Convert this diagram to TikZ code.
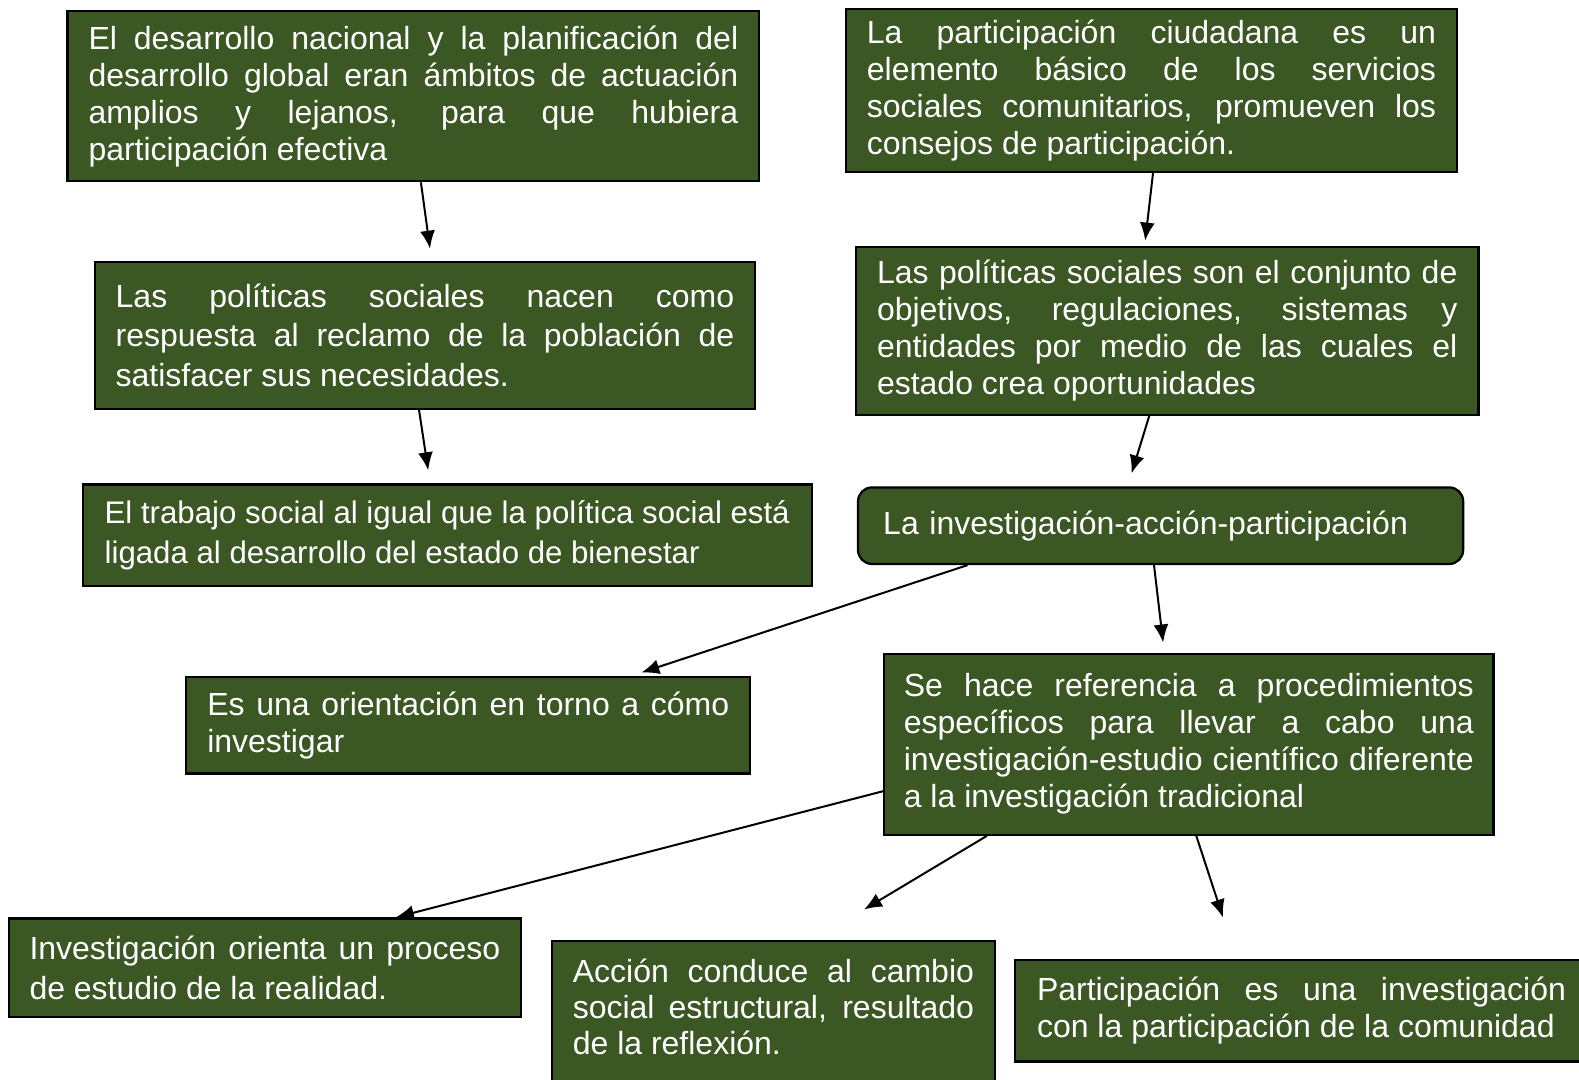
\documentclass[tikz,border=0pt]{standalone}
\usepackage{fontspec}
\setmainfont{Liberation Sans}
\usetikzlibrary{positioning,arrows.meta,calc}
\definecolor{boxgreen}{RGB}{58,87,36}

\begin{document}
\begin{tikzpicture}[x=0.5pt,y=-0.5pt,>={Latex[length=9pt,width=7.5pt]},
  gbox/.style={draw=black,line width=1.1pt,fill=boxgreen,text=white,inner xsep=10.5pt,inner ysep=0pt,
    align=justify,font=\fontsize{16pt}{18.5pt}\selectfont},
  link/.style={->,line width=1pt}]
  \useasboundingbox (0,0) rectangle (1579,1080);
  % left column
  \node[gbox,minimum width=345.9pt,minimum height=85pt,text width=324.9pt] (des) at (413.4,96.2)
    {El desarrollo nacional y la planificación del\linebreak desarrollo global eran ámbitos de actuación\linebreak amplios y lejanos, para que hubiera\linebreak participación efectiva};
  \node[gbox,minimum width=330.3pt,minimum height=73.5pt,text width=309.3pt,font=\fontsize{16pt}{19.6pt}\selectfont] (pol) at (425,335.3)
    {Las políticas sociales nacen como\linebreak respuesta al reclamo de la población de\linebreak satisfacer sus necesidades.};
  \node[gbox,minimum width=364.6pt,minimum height=50.9pt,align=left,font=\fontsize{15.6pt}{20.1pt}\selectfont] (trab) at (447.2,535.3)
    {El trabajo social al igual que la política social está\\ligada al desarrollo del estado de bienestar};
  \node[gbox,minimum width=282pt,minimum height=48.4pt,text width=261pt] (orient) at (468.3,725.1)
    {Es una orientación en torno a cómo\linebreak investigar};
  % right column
  \node[gbox,minimum width=305.6pt,minimum height=81.5pt,text width=284.6pt] (part) at (1151.5,90.6)
    {La participación ciudadana es un\linebreak elemento básico de los servicios\linebreak sociales comunitarios, promueven los\linebreak consejos de participación.};
  \node[gbox,minimum width=311.2pt,minimum height=84.1pt,text width=290.2pt] (conj) at (1167.2,330.8)
    {Las políticas sociales son el conjunto de\linebreak objetivos, regulaciones, sistemas y\linebreak entidades por medio de las cuales el\linebreak estado crea oportunidades};
  \node[gbox,rounded corners=7pt,inner xsep=12.6pt,minimum width=302.6pt,minimum height=38.3pt,text width=277.4pt,align=left] (iap) at (1160.6,525.7)
    {La investigación-acción-participación};
  \node[gbox,inner xsep=9.8pt,minimum width=304.6pt,minimum height=90.6pt,text width=285pt] (ref) at (1188.8,744.2)
    {Se hace referencia a procedimientos\linebreak específicos para llevar a cabo una\linebreak investigación-estudio científico diferente\linebreak a la investigación tradicional};
  % bottom row
  \node[gbox,inner xsep=10.2pt,minimum width=255.8pt,minimum height=49.4pt,text width=235.4pt,font=\fontsize{16pt}{19.6pt}\selectfont] (inv) at (264.9,967.8)
    {Investigación orienta un proceso\linebreak de estudio de la realidad.};
  \node[gbox,minimum width=221.6pt,minimum height=70.5pt,text width=200.6pt,font=\fontsize{16pt}{18.1pt}\selectfont] (acc) at (773.4,1011.1)
    {Acción conduce al cambio\linebreak social estructural, resultado\linebreak de la reflexión.\par\vspace{4pt}};
  \node[gbox,inner xsep=11pt,minimum width=286.5pt,minimum height=50.9pt,text width=264.5pt] (pcom) at (1301.5,1010.5)
    {Participación es una investigación\linebreak con la participación de la comunidad};
  % connectors
  \draw[link] ($(des.south)+(7.5,0)$) -- ($(pol.north)+(5,-12)$);
  \draw[link] ($(part.south)+(1.5,0)$) -- ($(conj.north)+(-22,-5)$);
  \draw[link] ($(pol.south)+(-6,0)$) -- ($(trab.north)+(-19,-13)$);
  \draw[link] ($(conj.south)+(-18,0)$) -- ($(iap.north)+(-29,-13)$);
  \draw[link] ($(iap.south)+(-193,0)$) -- ($(orient.north)+(173,-3)$);
  \draw[link] ($(iap.south)+(-6.6,0)$) -- ($(ref.north)+(-25.7,-10)$);
  \draw[link] ($(ref.west)+(0,47)$) -- ($(inv.north)+(131,0)$);
  \draw[link] ($(ref.south)+(-202,0)$) -- ($(acc.north)+(90.6,-30)$);
  \draw[link] ($(ref.south)+(7.5,0)$) -- ($(pcom.north)+(-78.5,-41)$);
\end{tikzpicture}
\end{document}
